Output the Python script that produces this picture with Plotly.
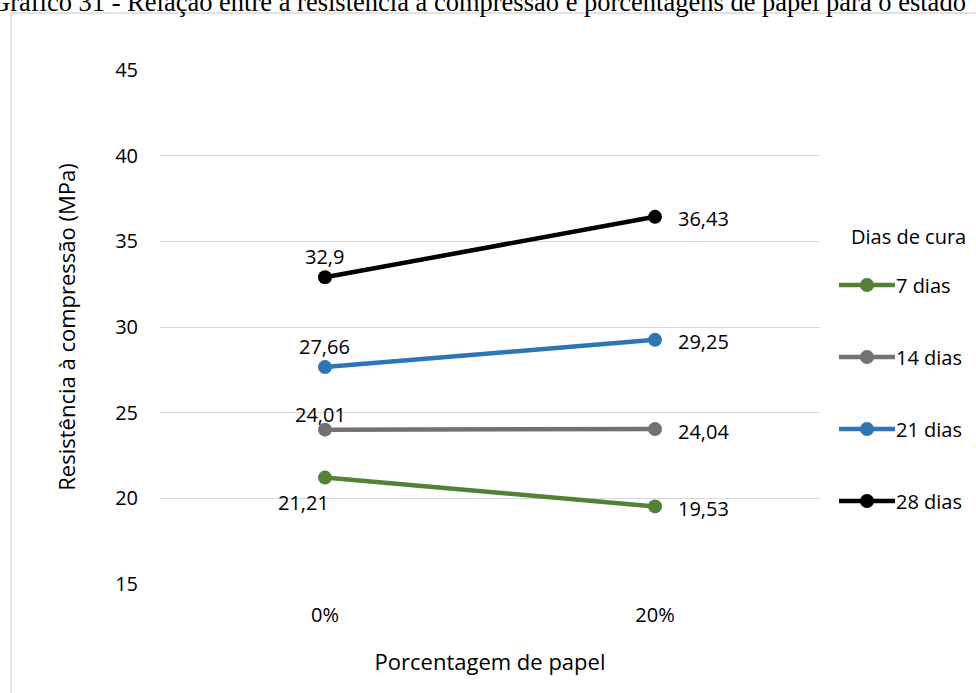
import plotly.graph_objects as go

# Data
categorias = ["0%", "20%"]
series_nomes = ["7 dias", "14 dias", "21 dias", "28 dias"]
valores_7 = [21.21, 19.53]
valores_14 = [24.01, 24.04]
valores_21 = [27.66, 29.25]
valores_28 = [32.9, 36.43]
cores = ["#548235", "#767171", "#2E75B6", "#000000"]

# label offsets (px) for the 0% point of each series; 20% labels sit to the right
desloc_0 = [(-22, -25), (-5, 15), (-1, 21), (-1, 21)]

FONTE = "Open Sans, Noto Sans, sans-serif"

# page geometry (plot area in pixels)
L, R, T, B = 160, 156, 70, 109
W, H = 976, 693
PW, PH = W - L - R, H - T - B


def px(x):
    return (x - L) / PW


def py(y):
    return 1 - (y - T) / PH


def rotulo(v):
    return f"{v:g}".replace(".", ",")


fig = go.Figure()
todas = [valores_7, valores_14, valores_21, valores_28]
for i, (nome, vals) in enumerate(zip(series_nomes, todas)):
    fig.add_trace(go.Scatter(
        x=categorias, y=vals, name=nome,
        mode="lines+markers",
        line=dict(color=cores[i], width=4.5),
        marker=dict(color=cores[i], size=14),
        cliponaxis=False, showlegend=False, hoverinfo="skip",
    ))
    dx, dy = desloc_0[i]
    fig.add_annotation(x=categorias[0], y=vals[0], text=rotulo(vals[0]),
                       showarrow=False, xanchor="center", yanchor="middle",
                       xshift=dx, yshift=dy,
                       font=dict(family=FONTE, size=20, color="#000000"))
    fig.add_annotation(x=categorias[1], y=vals[1], text=rotulo(vals[1]),
                       showarrow=False, xanchor="left", yanchor="middle",
                       xshift=21, yshift=-2,
                       font=dict(family=FONTE, size=20, color="#000000"))

# legend drawn by hand so the line samples are as long as in the original
fig.add_annotation(text="Dias de cura", xref="paper", yref="paper",
                   x=px(849), y=py(237), xanchor="left", yanchor="middle",
                   showarrow=False,
                   font=dict(family=FONTE, size=20, color="#000000"))
for i, nome in enumerate(series_nomes):
    yy = 285 + i * 72
    fig.add_shape(type="line", xref="paper", yref="paper",
                  x0=px(839), x1=px(895), y0=py(yy), y1=py(yy),
                  line=dict(color=cores[i], width=4.5))
    fig.add_shape(type="circle", xref="paper", yref="paper",
                  x0=px(860), x1=px(874), y0=py(yy - 7), y1=py(yy + 7),
                  line=dict(color=cores[i], width=0), fillcolor=cores[i])
    fig.add_annotation(text=nome, xref="paper", yref="paper",
                       x=px(894), y=py(yy), xanchor="left", yanchor="middle",
                       showarrow=False,
                       font=dict(family=FONTE, size=20, color="#000000"))

# outer chart frame
fig.add_shape(type="rect", xref="paper", yref="paper",
              x0=px(11), x1=px(1000), y0=py(720), y1=py(13),
              line=dict(color="#d9d9d9", width=1.5), fillcolor="rgba(0,0,0,0)",
              layer="below")

# document caption, clipped at the top of the page
fig.add_annotation(
    text="Gráfico 31 - Relação entre a resistência à compressão e porcentagens de papel para o estado",
    xref="paper", yref="paper", x=px(-11), y=py(2), xanchor="left", yanchor="middle",
    showarrow=False, font=dict(family="Liberation Serif, serif", size=26.5, color="#000000"),
)

fig.update_layout(
    width=W, height=H,
    margin=dict(l=L, r=R, t=T, b=B),
    paper_bgcolor="white", plot_bgcolor="white",
    font=dict(family=FONTE, size=20, color="#000000"),
    showlegend=False,
    xaxis=dict(
        title=dict(text="Porcentagem de papel", font=dict(size=22), standoff=27),
        range=[-0.5, 1.5], showgrid=False, showline=False, ticks="",
        tickfont=dict(size=20), zeroline=False, ticklabelstandoff=17,
    ),
    yaxis=dict(
        title=dict(text="Resistência à compressão (MPa)", font=dict(size=22), standoff=33),
        range=[15, 45], dtick=5, showgrid=True, gridcolor="#d9d9d9", gridwidth=1.3,
        showline=False, zeroline=False, ticks="", tickfont=dict(size=20),
        ticklabelstandoff=21,
    ),
)

fig.write_html("out.html", config={"displayModeBar": False},
               post_script="document.body.style.margin='0';")
